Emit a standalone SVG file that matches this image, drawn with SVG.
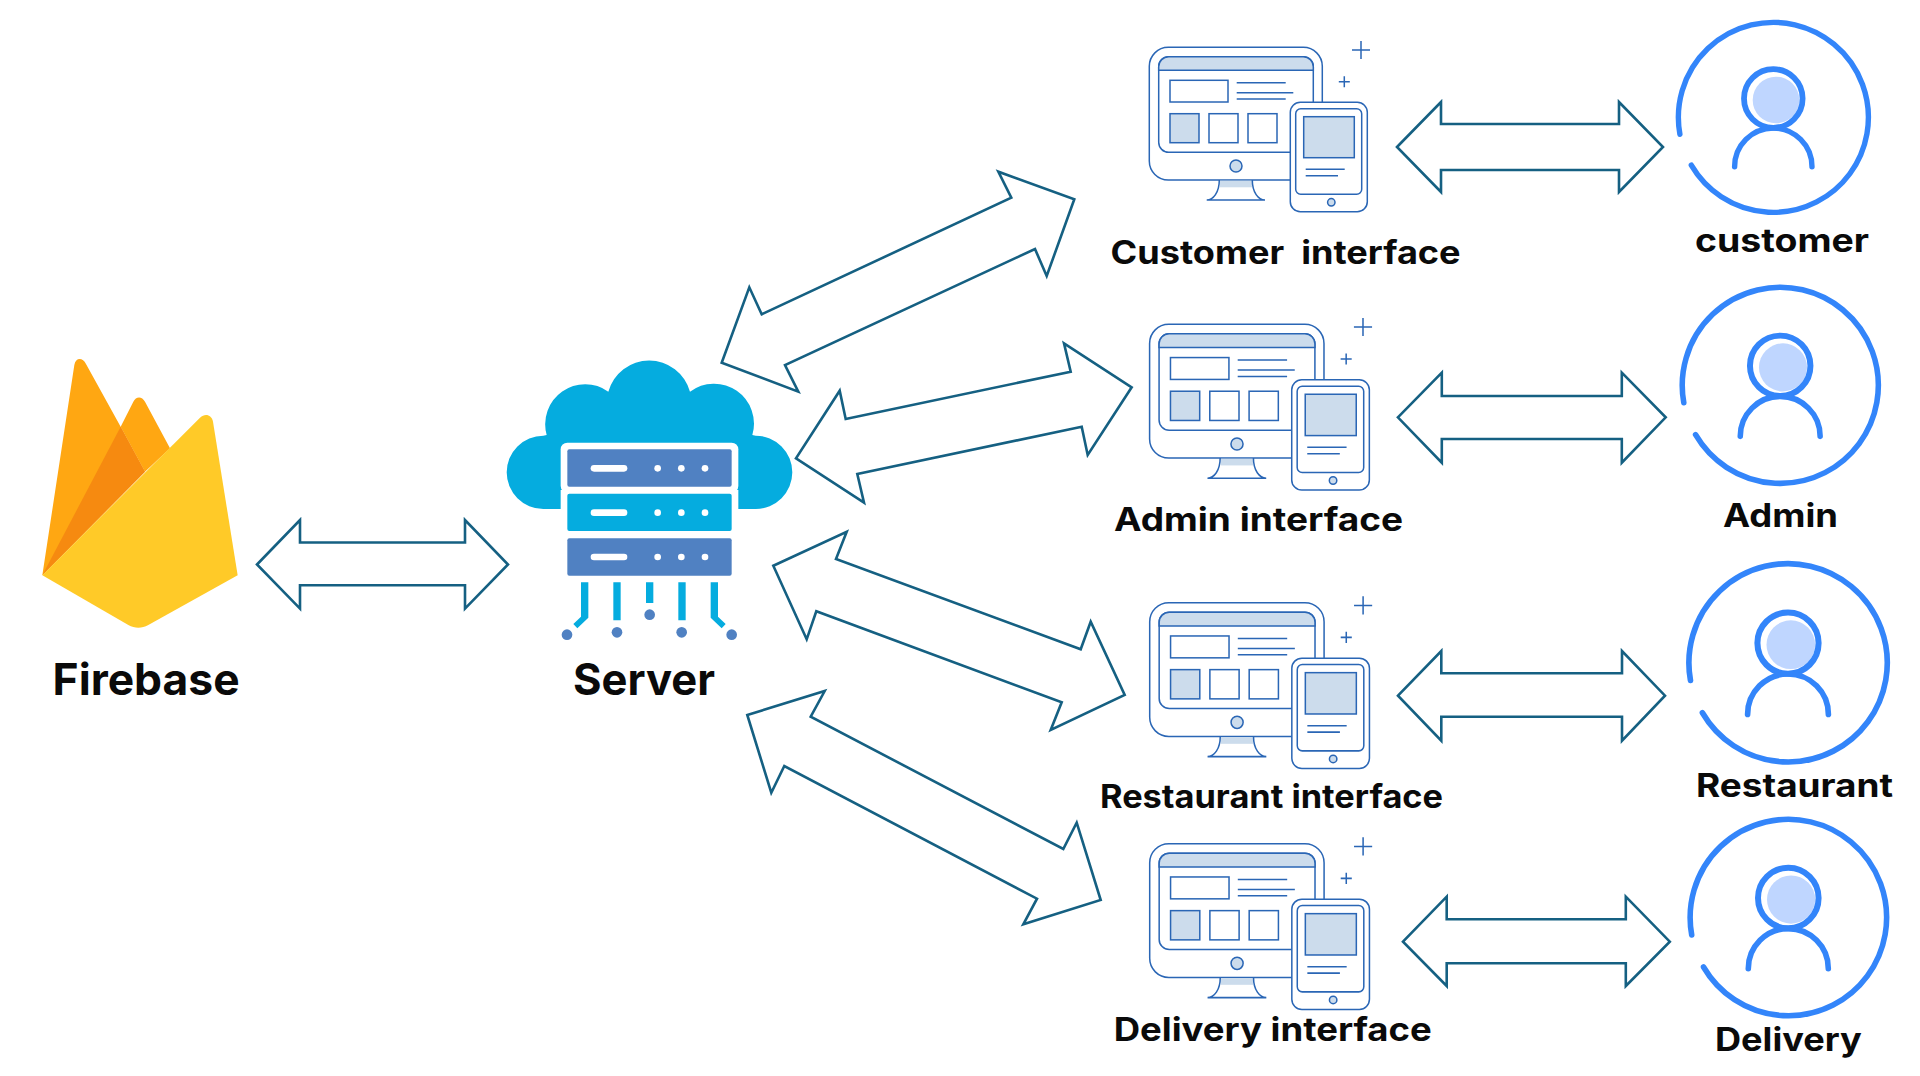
<svg xmlns="http://www.w3.org/2000/svg" xmlns:xlink="http://www.w3.org/1999/xlink" width="1920" height="1076" viewBox="0 0 1920 1076">
<style>
.lbl{font-family:Inter,"Liberation Sans",sans-serif;font-weight:700;fill:#0a0a0a;font-size:32px}
.big{font-size:44px}
.arr{fill:#fff;stroke:#156082;stroke-width:2.6;stroke-linejoin:miter}
.l{fill:none;stroke:#2a66b5;stroke-width:1.5}
.f{fill:#fff;stroke:#2a66b5;stroke-width:1.5}
.s{fill:#ccdcec;stroke:#2a66b5;stroke-width:1.5}
.n{fill:#ccdcec}
.r{fill:none;stroke:#3385fa;stroke-width:5.4;stroke-linecap:round}
.c{fill:#05acdf}
.b{fill:#5081c2}
.w{fill:#fff}
</style>
<defs>
<g id="screens">
<rect class="f" x="0" y="0" width="173" height="132.7" rx="19"/>
<rect class="n" x="70.7" y="133.4" width="32" height="6.6"/>
<path class="l" d="M70 132.7C70 145 64 152.7 57.4 152.7H115.7C109 152.7 103 145 103 132.7"/>
<circle class="s" cx="86.7" cy="118.7" r="6"/>
<rect class="f" x="9.4" y="9.4" width="154.6" height="95.6" rx="10"/>
<path class="s" d="M9.4 23V19.4a10 10 0 0 1 10-10H154a10 10 0 0 1 10 10V23Z"/>
<rect class="l" x="20.7" y="33" width="58" height="21.7"/>
<path class="l" d="M87.4 35.4H136.4M87.4 45.4H144M87.4 51.7H136.4"/>
<rect class="s" x="20.7" y="66.4" width="29" height="29"/>
<rect class="f" x="59.7" y="66.4" width="29" height="29"/>
<rect class="f" x="98.7" y="66.4" width="29" height="29"/>
<rect class="f" x="141" y="55" width="77" height="109.4" rx="10"/>
<rect class="f" x="146.4" y="61.4" width="66" height="85.6" rx="5"/>
<rect class="s" x="154.4" y="69.4" width="50.6" height="41"/>
<path class="l" d="M156.4 122H195.4M156.4 128.4H188.7"/>
<circle class="s" cx="182" cy="155" r="3.7"/>
<path class="l" d="M202.7 2.7H220.7M211.7 -6.3V11.7M189.5 34.4H200.5M195 28.9V39.9"/>
</g>
<g id="person">
<path class="r" d="M-93.4 15.8A95 95 0 1 1 -82 46.7"/>
<circle cx="2.7" cy="-18.5" r="23.3" fill="#bfd6ff"/>
<circle cx="0" cy="-20" r="29.3" fill="none" stroke="#3385fa" stroke-width="5.8"/>
<path class="r" d="M-38.7 48.3A38.7 38.7 0 0 1 38.7 48.3"/>
</g>
</defs>
<rect width="1920" height="1076" fill="#fff"/>

<g id="firebase" transform="translate(30 340) scale(.33333)">
<path fill="#ffa712" d="M37 706L133 75C137 52 158 52 168 72L272 260L345 395Z"/>
<path fill="#ffa712" d="M272 260L310 185C318 168 336 168 345 185L420 325L345 395Z"/>
<path fill="#f68a10" d="M37 706L272 260L345 395Z"/>
<path fill="#ffca28" d="M37 706L510 233C526 218 545 225 549 245L623 706L355 855C335 866 315 866 295 855Z"/>
</g>
<text class="lbl big" x="52.6" y="695" textLength="187" lengthAdjust="spacingAndGlyphs">Firebase</text>

<g id="server" transform="translate(490 350) scale(.33333)">
<path class="c" d="M212 477H160A110 110 0 0 1 160 257L170 255A120 120 0 0 1 355 125A127 127 0 0 1 600 125A120 120 0 0 1 787 255L797 257A110 110 0 0 1 797 477H745Z"/>
<rect class="w" x="212" y="278" width="533" height="150" rx="20"/>
<rect class="w" x="212" y="420" width="533" height="60"/>
<rect class="b" x="232" y="298" width="493" height="112" rx="6"/>
<rect class="c" x="232" y="431" width="493" height="112" rx="6"/>
<rect class="b" x="232" y="565" width="493" height="112" rx="6"/>
<g class="w">
<rect x="302" y="345" width="110" height="20" rx="10"/><circle cx="503" cy="355" r="10"/><circle cx="574" cy="355" r="10"/><circle cx="645" cy="355" r="10"/>
<rect x="302" y="478" width="110" height="20" rx="10"/><circle cx="503" cy="488" r="10"/><circle cx="574" cy="488" r="10"/><circle cx="645" cy="488" r="10"/>
<rect x="302" y="611" width="110" height="20" rx="10"/><circle cx="503" cy="621" r="10"/><circle cx="574" cy="621" r="10"/><circle cx="645" cy="621" r="10"/>
</g>
<path class="c" d="M273 697H295V803L262 835L250 822L273 800ZM370 697H392V811H370ZM468 697H490V759H468ZM565 697H587V811H565ZM662 697H684V800L707 822L695 835L662 803Z"/>
<g class="b"><circle cx="231" cy="854" r="16"/><circle cx="381" cy="847" r="16"/><circle cx="479" cy="794" r="16"/><circle cx="575" cy="847" r="16"/><circle cx="725" cy="854" r="16"/></g>
</g>
<text class="lbl big" x="573" y="695" textLength="142" lengthAdjust="spacingAndGlyphs">Server</text>

<g id="connectors">
<polygon class="arr" points="257,564.5 300,520 300,542.5 465,542.5 465,520 508,564.5 465,608.6 465,585.3 300,585.3 300,608.6"/>
<polygon class="arr" points="1074.3,199.3 1046.7,276 1035,249 785,365 798.3,391.7 721.7,362.7 749.3,287.3 761.7,314.3 1011.3,197.7 998.3,171.7"/>
<polygon class="arr" points="1131.7,387.3 1087.7,455 1081.7,426.7 857.3,474 864,502.7 796,458.3 839.7,390.7 845.7,419 1070.7,371.7 1064,343.3"/>
<polygon class="arr" points="773.3,565.7 846.7,531.7 836,559 1080.7,649.3 1090.7,621.7 1124.7,695 1050.7,730 1061.7,702.3 816.3,611.3 806.7,639.3"/>
<polygon class="arr" points="747.3,715 824.7,691 810.7,716.7 1063.3,849 1076.7,822.7 1100.7,900 1023.3,924.3 1037,898.7 784.3,766 771.3,792.7"/>
<polygon class="arr" points="1397,147 1441,102 1441,124 1619,124 1619,102 1663,147 1619,192 1619,170 1441,170 1441,192"/>
<polygon class="arr" points="1397.9,417.3 1441.8,372.7 1441.8,396 1621.8,396 1621.8,372.7 1665.7,417.3 1621.8,462.7 1621.8,439 1441.8,439 1441.8,462.7"/>
<polygon class="arr" points="1398,695.7 1441.3,651 1441.3,673.3 1622,673.3 1622,651 1665,695.7 1622,740.7 1622,716.7 1441.3,716.7 1441.3,740.7"/>
<polygon class="arr" points="1403,941.7 1446.7,896.7 1446.7,919.3 1625.8,919.3 1625.8,896.7 1669.8,941.7 1625.8,986 1625.8,963.3 1446.7,963.3 1446.7,986"/>
</g>

<g id="customer-interface">
<use xlink:href="#screens" href="#screens" transform="translate(1149.3 47.3)"/>
<text class="lbl" x="1110.6" y="264" textLength="350" lengthAdjust="spacingAndGlyphs" xml:space="preserve">Customer  interface</text>
</g>
<g id="admin-interface">
<use xlink:href="#screens" href="#screens" transform="translate(1149.6 324.3) scale(1.008)"/>
<text class="lbl" x="1114" y="531" textLength="289" lengthAdjust="spacingAndGlyphs">Admin interface</text>
</g>
<g id="restaurant-interface">
<use xlink:href="#screens" href="#screens" transform="translate(1149.7 602.7) scale(1.008)"/>
<text class="lbl" x="1100" y="808" textLength="343" lengthAdjust="spacingAndGlyphs">Restaurant interface</text>
</g>
<g id="delivery-interface">
<use xlink:href="#screens" href="#screens" transform="translate(1149.7 843.7) scale(1.008)"/>
<text class="lbl" x="1113.7" y="1040.7" textLength="318" lengthAdjust="spacingAndGlyphs">Delivery interface</text>
</g>

<g id="customer">
<use xlink:href="#person" href="#person" transform="translate(1773.3 118.5)"/>
<text class="lbl" x="1695" y="252" textLength="174" lengthAdjust="spacingAndGlyphs">customer</text>
</g>
<g id="admin">
<use xlink:href="#person" href="#person" transform="translate(1780.2 386.5) scale(1.032)"/>
<text class="lbl" x="1723" y="527" textLength="115" lengthAdjust="spacingAndGlyphs">Admin</text>
</g>
<g id="restaurant">
<use xlink:href="#person" href="#person" transform="translate(1788 664) scale(1.044)"/>
<text class="lbl" x="1696" y="797" textLength="197" lengthAdjust="spacingAndGlyphs">Restaurant</text>
</g>
<g id="delivery">
<use xlink:href="#person" href="#person" transform="translate(1788.3 918.7) scale(1.034)"/>
<text class="lbl" x="1715" y="1050.7" textLength="146.7" lengthAdjust="spacingAndGlyphs">Delivery</text>
</g>
</svg>
